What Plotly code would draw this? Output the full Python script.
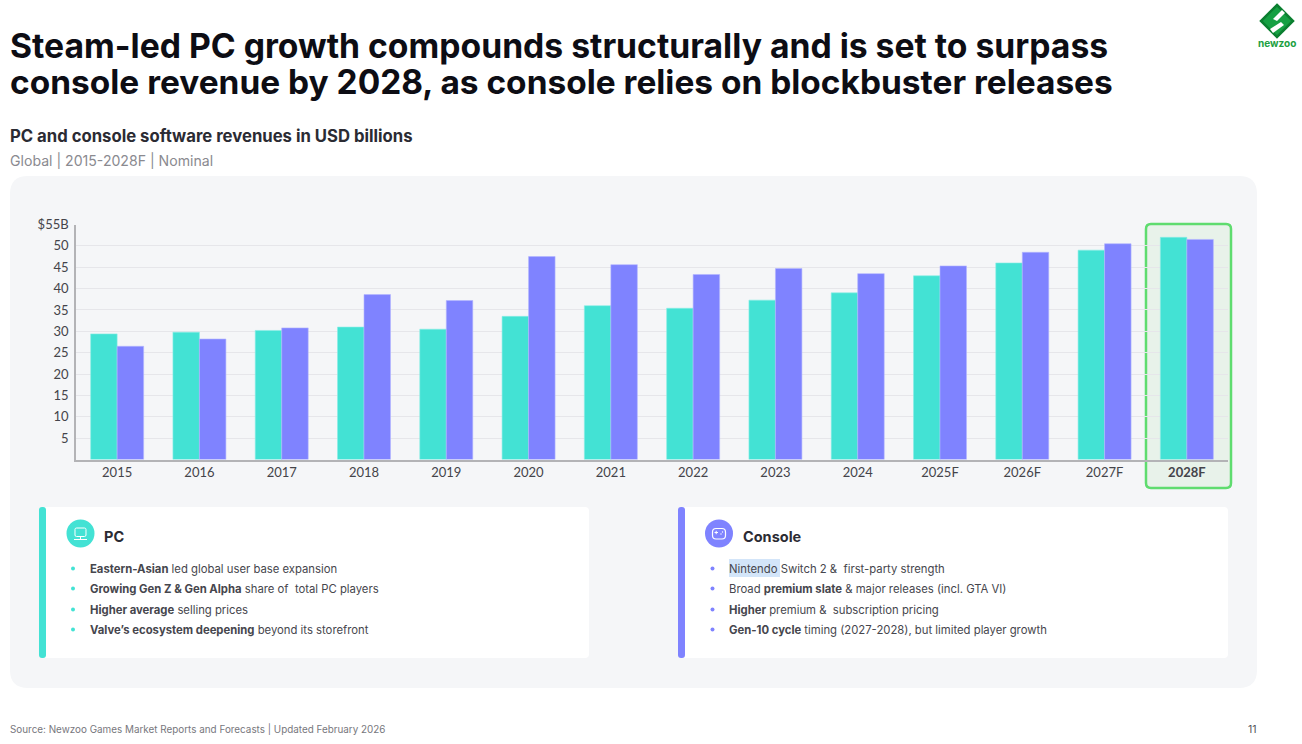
import plotly.graph_objects as go

W = 1302
H = 744

years = ["2015", "2016", "2017", "2018", "2019", "2020", "2021", "2022", "2023", "2024",
         "2025F", "2026F", "2027F", "<b>2028F</b>"]
pc_values = [29.4, 29.8, 30.2, 31.0, 30.5, 33.5, 36.0, 35.4, 37.3, 39.0, 43.0, 46.0, 49.0, 52.0]
console_values = [26.5, 28.2, 30.8, 38.6, 37.2, 47.5, 45.6, 43.3, 44.7, 43.5, 45.3, 48.5, 50.5, 51.5]
y_ticks = [5, 10, 15, 20, 25, 30, 35, 40, 45, 50, 55]
y_labels = ["5", "10", "15", "20", "25", "30", "35", "40", "45", "50", "$55B"]

pc_bullets = [
    "<b>Eastern-Asian</b> led global user base expansion",
    "<b>Growing Gen Z &amp; Gen Alpha</b> share of  total PC players",
    "<b>Higher average</b> selling prices",
    "<b>Valve\u2019s ecosystem deepening</b> beyond its storefront",
]
console_bullets = [
    "Nintendo Switch 2 &amp;  first-party strength",
    "Broad <b>premium slate</b> &amp; major releases (incl. GTA VI)",
    "<b>Higher</b> premium &amp;  subscription pricing",
    "<b>Gen-10 cycle</b> timing (2027-2028), but limited player growth",
]

TEAL = "#43e2d4"
PURPLE = "#7f83ff"
FONT = "Inter"
TICK_FONT = "Lato"


def px(x):
    return x / W


def py(y):
    return 1 - y / H


def round_rect(x0, y0, x1, y1, r):
    # svg path in paper coords, corners drawn with quadratic curves
    pts = [
        ("M", x0 + r, y0), ("L", x1 - r, y0), ("Q", x1, y0, x1, y0 + r),
        ("L", x1, y1 - r), ("Q", x1, y1, x1 - r, y1), ("L", x0 + r, y1),
        ("Q", x0, y1, x0, y1 - r), ("L", x0, y0 + r), ("Q", x0, y0, x0 + r, y0),
    ]
    d = ""
    for p in pts:
        coords = p[1:]
        parts = []
        for i in range(0, len(coords), 2):
            parts.append("{:.5f},{:.5f}".format(px(coords[i]), py(coords[i + 1])))
        d += p[0] + " ".join(parts) + " "
    return d + "Z"


def rect_shape(x0, y0, x1, y1, r, fill, line=None, lw=0, layer="below"):
    return dict(
        type="path", xref="paper", yref="paper", path=round_rect(x0, y0, x1, y1, r),
        fillcolor=fill, line=dict(color=line or fill, width=lw), layer=layer,
    )


def circle(cx, cy, r, fill, layer="above"):
    return dict(
        type="circle", xref="paper", yref="paper",
        x0=px(cx - r), x1=px(cx + r), y0=py(cy + r), y1=py(cy - r),
        fillcolor=fill, line=dict(width=0), layer=layer,
    )


def poly(points, fill, line=None, lw=0):
    d = "M" + " L".join("{:.5f},{:.5f}".format(px(a), py(b)) for a, b in points) + " Z"
    return dict(type="path", xref="paper", yref="paper", path=d, fillcolor=fill,
                line=dict(color=line or fill, width=lw), layer="above")


def white_line(x0, y0, x1, y1, lw=1):
    return dict(type="line", xref="paper", yref="paper", layer="above", x0=px(x0), x1=px(x1),
                y0=py(y0), y1=py(y1), line=dict(color="#ffffff", width=lw))


def text(x, y, s, size, color, family=FONT, anchor="left"):
    return dict(
        x=px(x), y=py(y), xref="paper", yref="paper", text=s, showarrow=False,
        xanchor=anchor, yanchor="middle", align=anchor,
        font=dict(family=family, size=size, color=color),
        borderpad=0, borderwidth=0,
    )


fig = go.Figure()
fig.add_trace(go.Bar(x=years, y=pc_values, name="PC", marker_color=TEAL,
                     marker_line=dict(color="#8aeee5", width=0.6)))
fig.add_trace(go.Bar(x=years, y=console_values, name="Console", marker_color=PURPLE,
                     marker_line=dict(color="#b4b6ff", width=0.6)))

shapes = [
    rect_shape(10, 176, 1257, 688, 18, "#f5f6f8"),
    rect_shape(1146, 224, 1231, 488, 5, "#e8f2ea", "#5fdc6f", 2.5),
    # cards
    rect_shape(39, 507, 589, 658, 4, "#ffffff"),
    rect_shape(678, 507, 1228, 658, 4, "#ffffff"),
    rect_shape(39, 507, 46, 658, 3, TEAL),
    rect_shape(678, 507, 685, 658, 3, PURPLE),
    # selection highlight behind Nintendo
    rect_shape(729, 559, 780, 577, 0, "#d3e5f9"),
    # card icons
    circle(80.5, 533.5, 14, TEAL),
    circle(719, 533.5, 14, PURPLE),
    # monitor
    dict(type="path", xref="paper", yref="paper", layer="above",
         path=round_rect(75, 528, 86, 536.5, 1.5), fillcolor="rgba(0,0,0,0)",
         line=dict(color="#ffffff", width=1)),
    white_line(80.5, 536.5, 80.5, 539.5),
    white_line(74, 539.5, 87, 539.5),
    # gamepad
    dict(type="path", xref="paper", yref="paper", layer="above",
         path=round_rect(712.5, 528.5, 725.5, 539, 3.5), fillcolor="rgba(0,0,0,0)",
         line=dict(color="#ffffff", width=1.2)),
    white_line(714.5, 532.5, 718, 532.5),
    white_line(716.2, 530.8, 716.2, 534.2),
    circle(722.5, 532, 0.7, "#ffffff"),
    circle(721, 534, 0.7, "#ffffff"),
    # logo
    poly([(1277, 5), (1293, 21), (1277, 37), (1261, 21)], "#16a043", "#0b7f30", 2.5),
    poly([(1282, 10), (1285, 13), (1277, 21), (1273, 19)], "#ffffff"),
    poly([(1281, 22), (1284, 25), (1273, 33), (1270, 29)], "#ffffff"),
]

annotations = [
    text(10, 45, "<b>Steam-led PC growth compounds structurally and is set to surpass</b>", 33.7, "#0d0d14"),
    text(10, 82, "<b>console revenue by 2028, as console relies on blockbuster releases</b>", 33.45, "#0d0d14"),
    text(10, 136, "<b>PC and console software revenues in USD billions</b>", 16.7, "#2b2b33"),
    text(10, 160.5, "Global | 2015-2028F | Nominal", 14.1, "#8a8a90"),
    text(104, 536.5, "<b>PC</b>", 14.5, "#2b2b33"),
    text(743, 536.5, "<b>Console</b>", 14.5, "#2b2b33"),
    text(10, 729, "Source: Newzoo Games Market Reports and Forecasts | Updated February 2026", 9.9, "#77777d"),
    text(1257, 729, "11", 10.5, "#55555b", anchor="right"),
    text(1277, 42.5, "<b>newzoo</b>", 10, "#20a040", anchor="center"),
]

row_y = [569, 589, 610, 630]
for i, s in enumerate(pc_bullets):
    shapes.append(circle(73, row_y[i] - 0.5, 2, TEAL))
    annotations.append(text(89.5, row_y[i], s, 11.3, "#46464d"))
for i, s in enumerate(console_bullets):
    shapes.append(circle(712.5, row_y[i] - 0.5, 2, PURPLE))
    annotations.append(text(729, row_y[i], s, 11.3, "#46464d"))

fig.update_layout(
    width=W, height=H, margin=dict(l=0, r=0, t=0, b=0),
    barmode="group", bargap=0.356, bargroupgap=0,
    paper_bgcolor="#ffffff", plot_bgcolor="rgba(0,0,0,0)",
    showlegend=False, shapes=shapes, annotations=annotations,
    font=dict(family=TICK_FONT, size=13, color="#44444a"),
)
fig.update_xaxes(
    domain=[px(76), px(1228)], type="category", categoryorder="array", categoryarray=years,
    showgrid=False, showline=True, linecolor="#b3b3b6", linewidth=1.5, ticks="", tickfont=dict(size=13),
    automargin=False,
)
fig.update_yaxes(
    domain=[py(459.5), py(224.5)], range=[0, 55], tickvals=y_ticks, ticktext=y_labels,
    showgrid=True, gridcolor="#e6e6ea", gridwidth=1, zeroline=False, showline=True,
    linecolor="#b3b3b6", linewidth=1.5, ticks="", tickfont=dict(size=13),
    ticklabelstandoff=3, automargin=False,
)

fig.write_html("out.html", config={"displayModeBar": False},
               post_script="document.body.style.margin='0';")
